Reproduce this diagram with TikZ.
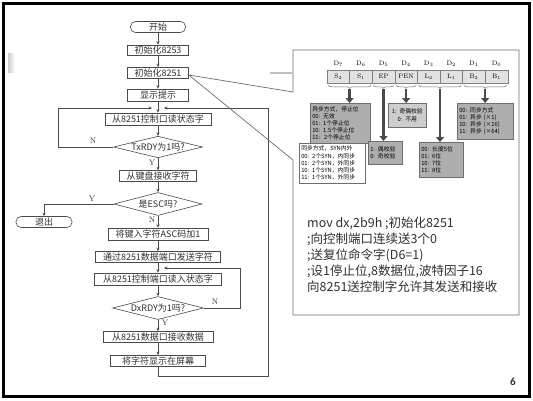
\documentclass[tikz,border=0pt]{standalone}
\usepackage{fontspec}
\newfontfamily\cjk{Noto Sans CJK SC}
\newfontfamily\carl{Carlito}
\usetikzlibrary{shapes.geometric,arrows.meta,decorations.pathreplacing,calc}
\definecolor{ln}{HTML}{4A4A4A}
\definecolor{tx}{HTML}{303030}
\definecolor{boxA}{HTML}{AEAEAE}
\definecolor{boxB}{HTML}{CDCDCD}
\definecolor{cellc}{HTML}{E2E2E2}
\definecolor{callc}{HTML}{6E6E6E}
\begin{document}
\begin{tikzpicture}[x=1pt,y=-1pt,
  fbx/.style={draw=ln,line width=0.6pt,rectangle,inner sep=0pt,minimum height=11pt,text=tx,font=\cjk\fontsize{9}{9}\selectfont},
  fterm/.style={fbx,rounded corners=5pt},
  fdec/.style={fbx,diamond,shape aspect=4},
  flow/.style={draw=ln,line width=0.6pt,-{Stealth[length=3.5pt,width=3pt]}},
  lbl/.style={font=\fontsize{8}{9}\selectfont,text=tx,inner sep=0pt},
  cell/.style={draw=ln!70,fill=cellc,line width=0.5pt,minimum width=22.6pt,minimum height=13pt,inner sep=0pt,font=\fontsize{6.5}{7}\selectfont},
  hdr/.style={inner sep=0pt,font=\fontsize{6.5}{7}\selectfont},
  brc/.style={draw=ln!80,line width=0.5pt,decorate,decoration={brace,mirror,amplitude=3pt}},
  barrow/.style={draw=ln,line width=2.4pt,-{Triangle[length=5pt,width=8pt]}},
  sbox/.style={draw=ln!80,line width=0.5pt,anchor=north west,align=left,inner sep=2pt,text=black,font=\cjk\fontsize{5.8}{7.2}\selectfont},
  code/.style={anchor=base west,inner sep=0pt,text=tx,font=\cjk\fontsize{12.5}{16}\selectfont}
]
\fill[white] (0,0) rectangle (533,400);
\useasboundingbox (0,0) rectangle (533,400);
% slide decorations
\shade[left color=gray!40,right color=white] (8,53) rectangle (15,72);
\draw[gray!50,line width=1.5pt] (270,73) -- (292,73);

% ---------- flowchart ----------
\node[fterm,minimum width=55pt] (start) at (158,27) {开始};
\node[fbx,minimum width=61pt,minimum height=10pt] (i53) at (158,50) {初始化8253};
\node[fbx,minimum width=61pt] (i51) at (158,73) {初始化8251};
\node[fbx,minimum width=61pt,minimum height=12pt] (show) at (158,95) {显示提示};
\node[fbx,minimum width=106pt,minimum height=12pt] (rd1) at (158,119) {从8251控制口读状态字};
\node[fdec,minimum width=89pt,minimum height=21pt] (d1) at (158,147) {TxRDY为1吗?};
\node[fbx,minimum width=77pt] (kb) at (158,176) {从键盘接收字符};
\node[fdec,minimum width=88pt,minimum height=23pt] (d2) at (158,204) {是ESC吗?};
\node[fterm,minimum width=56pt] (exit) at (44,222) {退出};
\node[fbx,minimum width=100pt,minimum height=12pt] (add) at (158,234) {将键入字符ASC码加1};
\node[fbx,minimum width=125pt] (send) at (158,257) {通过8251数据端口发送字符};
\node[fbx,minimum width=127pt,minimum height=12pt] (rd2) at (158,279) {从8251控制端口读入状态字};
\node[fdec,minimum width=91pt,minimum height=23pt] (d3) at (158,308) {DxRDY为1吗?};
\node[fbx,minimum width=110pt] (recv) at (158,337) {从8251数据口接收数据};
\node[fbx,minimum width=95pt] (disp) at (158,361) {将字符显示在屏幕};

\foreach \a/\b in {start/i53,i53/i51,i51/show,show/rd1,rd1/d1,d1/kb,kb/d2,d2/add,add/send,send/rd2,rd2/d3,d3/recv,recv/disp}
  \draw[flow] (\a) -- (\b);

\coordinate (bl) at (158,376);
\coordinate (br) at (268,376);
\coordinate (tr) at (268,108);
\coordinate (tin) at (164,108);
\draw[flow] (disp.south) -- (bl) -- (br) -- (tr) -- (tin);

\coordinate (l1) at (58,147);
\coordinate (l2) at (58,108);
\coordinate (lin) at (152,108);
\draw[flow] (d1.west) -- (l1) -- (l2) -- (lin);

\draw[flow] (d2.west) -| (exit.north);

\coordinate (r1) at (240,308);
\coordinate (r2) at (240,268);
\coordinate (rin) at (164,268);
\draw[flow] (d3.east) -- (r1) -- (r2) -- (rin);

\node[lbl] (n1) at (93,141) {N};
\node[lbl] (y1) at (152,163) {Y};
\node[lbl] (y2) at (92,199) {Y};
\node[lbl] (n2) at (152,220) {N};
\node[lbl] (n3) at (215,302) {N};
\node[lbl] (y3) at (165,323) {Y};

% ---------- callout ----------
\draw[callc,line width=0.7pt] ([yshift=-2pt]i51.east) -- (293,92) -- (293,50) -- (519,50) -- (519,315) -- (293,315) -- (293,160) -- cycle;

% register
\foreach \lab/\dd [count=\i] in {S_2/7,S_1/6,EP/5,PEN/4,L_2/3,L_1/2,B_2/1,B_1/0} {
  \node[cell] (c\i) at ({327+22.6*(\i-0.5)},76.5) {$\mathrm{\lab}$};
  \node[hdr] (h\i) at ({327+22.6*(\i-0.5)},64) {D$_{\dd}$};
}
\draw[brc] ([xshift=1.5pt,yshift=-2pt]c1.south west) -- ([xshift=-1.5pt,yshift=-2pt]c2.south east);
\draw[brc] ([xshift=1.5pt,yshift=-2pt]c3.south west) -- ([xshift=-1.5pt,yshift=-2pt]c3.south east);
\draw[brc] ([xshift=1.5pt,yshift=-2pt]c4.south west) -- ([xshift=-1.5pt,yshift=-2pt]c4.south east);
\draw[brc] ([xshift=1.5pt,yshift=-2pt]c5.south west) -- ([xshift=-1.5pt,yshift=-2pt]c6.south east);
\draw[brc] ([xshift=1.5pt,yshift=-2pt]c7.south west) -- ([xshift=-1.5pt,yshift=-2pt]c8.south east);

% small boxes
\node[sbox,fill=boxA,minimum width=60pt,minimum height=40pt,text width=56pt] (b1) at (310,103)
  {异步方式，停止位\\00: 无效\\01: 1个停止位\\10: 1.5个停止位\\11:\ \ 2个停止位};
\node[sbox,fill=white,minimum width=66pt,minimum height=40pt,text width=62pt] (b2) at (299,143)
  {同步方式，SYN内外\\00: 2个SYN，内同步\\01: 2个SYN，外同步\\10: 1个SYN，内同步\\11: 1个SYN，外同步};
\node[sbox,fill=boxA,minimum width=34pt,minimum height=23pt,text width=30pt] (b3) at (368,141)
  {1: 偶校验\\0: 奇校验};
\node[sbox,fill=boxB,minimum width=38pt,minimum height=24pt,text width=34pt,align=center] (b4) at (388,103)
  {1: 奇偶校验\\0: 不用};
\node[sbox,fill=boxA,minimum width=44pt,minimum height=35pt,text width=40pt] (b5) at (419,142)
  {00: 长度5位\\01: 6位\\10: 7位\\11: 8位};
\node[sbox,fill=boxA,minimum width=56pt,minimum height=36pt,text width=52pt] (b6) at (457,103)
  {00: 同步方式\\01: 异步 (×1)\\10: 异步 (×16)\\11: 异步 (×64)};

\coordinate (aS) at ($(c1.south west)!0.5!(c2.south east)+(0,6)$);
\coordinate (aE) at ($(c3.south)+(0,6)$);
\coordinate (aP) at ($(c4.south)+(0,6)$);
\coordinate (aL) at ($(c5.south west)!0.5!(c6.south east)+(0,6)$);
\coordinate (aB) at ($(c7.south west)!0.5!(c8.south east)+(0,6)$);
\draw[barrow] (aS) -- (aS |- b1.north);
\draw[barrow] (aE) -- (aE |- b3.north);
\draw[barrow] (aP) -- (aP |- b4.north);
\draw[barrow] (aL) -- (aL |- b5.north);
\draw[barrow] (aB) -- (aB |- b6.north);

% code text
\node[code] (k1) at (307,227) {mov dx,2b9h ;初始化8251};
\node[code] (k2) at (307,243) {;向控制端口连续送3个0};
\node[code] (k3) at (307,259) {;送复位命令字(D6=1)};
\node[code] (k4) at (307,275) {;设1停止位,8数据位,波特因子16};
\node[code] (k5) at (307,291) {向8251送控制字允许其发送和接收};

% page number
\node[inner sep=0pt,text=tx,font=\carl\bfseries\fontsize{11}{12}\selectfont] (pg) at (513,382) {6};

% frame
\draw[black,line width=3pt] (3.5,3.5) rectangle (529.5,396.5);
\end{tikzpicture}
\end{document}
